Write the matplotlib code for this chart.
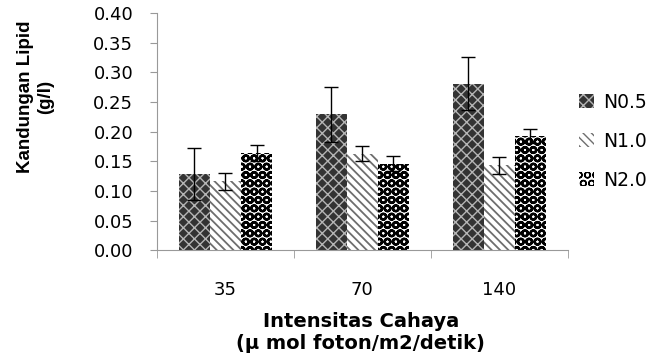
import numpy as np
import matplotlib
matplotlib.use('Agg')
import matplotlib.pyplot as plt

categories = ['35', '70', '140']
series_names = ['N0.5', 'N1.0', 'N2.0']
n05_values = [0.128, 0.229, 0.281]
n10_values = [0.116, 0.163, 0.143]
n20_values = [0.164, 0.146, 0.192]
n05_err = [0.044, 0.046, 0.045]
n10_err = [0.014, 0.013, 0.014]
n20_err = [0.013, 0.013, 0.012]
y_ticks = [0.00, 0.05, 0.10, 0.15, 0.20, 0.25, 0.30, 0.35, 0.40]

fig = plt.figure(figsize=(6.5, 3.62), dpi=100)
ax = fig.add_axes([0.2415, 0.309, 0.632, 0.655])

x = np.arange(len(categories))
width = 0.227
# pola arsir tiap seri (hatch, warna, tebal garis arsir)
styles = [
    (dict(facecolor='#333333', hatch='xxx', edgecolor='#b5b5b5'), 1.0),
    (dict(facecolor='white', hatch='\\\\\\\\', edgecolor='#6e6e6e'), 1.3),
    (dict(facecolor='white', hatch='OO', edgecolor='black'), 1.7),
]
values = [n05_values, n10_values, n20_values]
errors = [n05_err, n10_err, n20_err]

for i, (vals, errs, (st, hlw), name) in enumerate(zip(values, errors, styles, series_names)):
    with plt.rc_context({'hatch.linewidth': hlw}):
        bars = ax.bar(x + (i - 1) * width, vals, width, linewidth=0, label=name, **st)
        for b in bars:
            if hasattr(b, 'set_hatch_linewidth'):
                b.set_hatch_linewidth(hlw)
    ax.errorbar(x + (i - 1) * width, vals, yerr=errs, fmt='none', ecolor='black',
                elinewidth=1, capsize=5, capthick=1)

ax.set_xlim(-0.5, 2.5)
ax.set_ylim(0, 0.40)
ax.set_yticks(y_ticks)
ax.set_yticklabels(['%.2f' % v for v in y_ticks], fontsize=13, family='DejaVu Sans')
ax.set_xticks(x)
ax.set_xticklabels(categories, fontsize=13, family='DejaVu Sans')
ax.set_xticks([-0.5, 0.5, 1.5, 2.5], minor=True)
ax.tick_params(axis='x', which='major', length=0, pad=22)
ax.tick_params(axis='x', which='minor', length=6, color='#999999', direction='out')
ax.tick_params(axis='y', length=5, color='#999999', direction='out', pad=12)

for s in ['top', 'right']:
    ax.spines[s].set_visible(False)
for s in ['left', 'bottom']:
    ax.spines[s].set_color('#999999')

fig.text(0.055, 0.732, 'Kandungan Lipid\n(g/l)', ha='center', va='center', rotation=90,
         fontsize=13.5, fontweight='bold', family='Liberation Sans', linespacing=1.25)
fig.text(0.555, 0.113, 'Intensitas Cahaya', ha='center', va='center',
         fontsize=14, fontweight='bold', family='DejaVu Sans')
fig.text(0.555, 0.052, '(\u00b5 mol foton/m2/detik)', ha='center', va='center',
         fontsize=14, fontweight='bold', family='DejaVu Sans')

leg = ax.legend(loc='center left', bbox_to_anchor=(0.99, 0.46), frameon=False,
                fontsize=13.5, handlelength=0.8, handleheight=0.8,
                labelspacing=1.07, handletextpad=0.5, borderpad=0.3)
for t in leg.get_texts():
    t.set_family('DejaVu Sans')

fig.savefig('out.png', dpi=100)
